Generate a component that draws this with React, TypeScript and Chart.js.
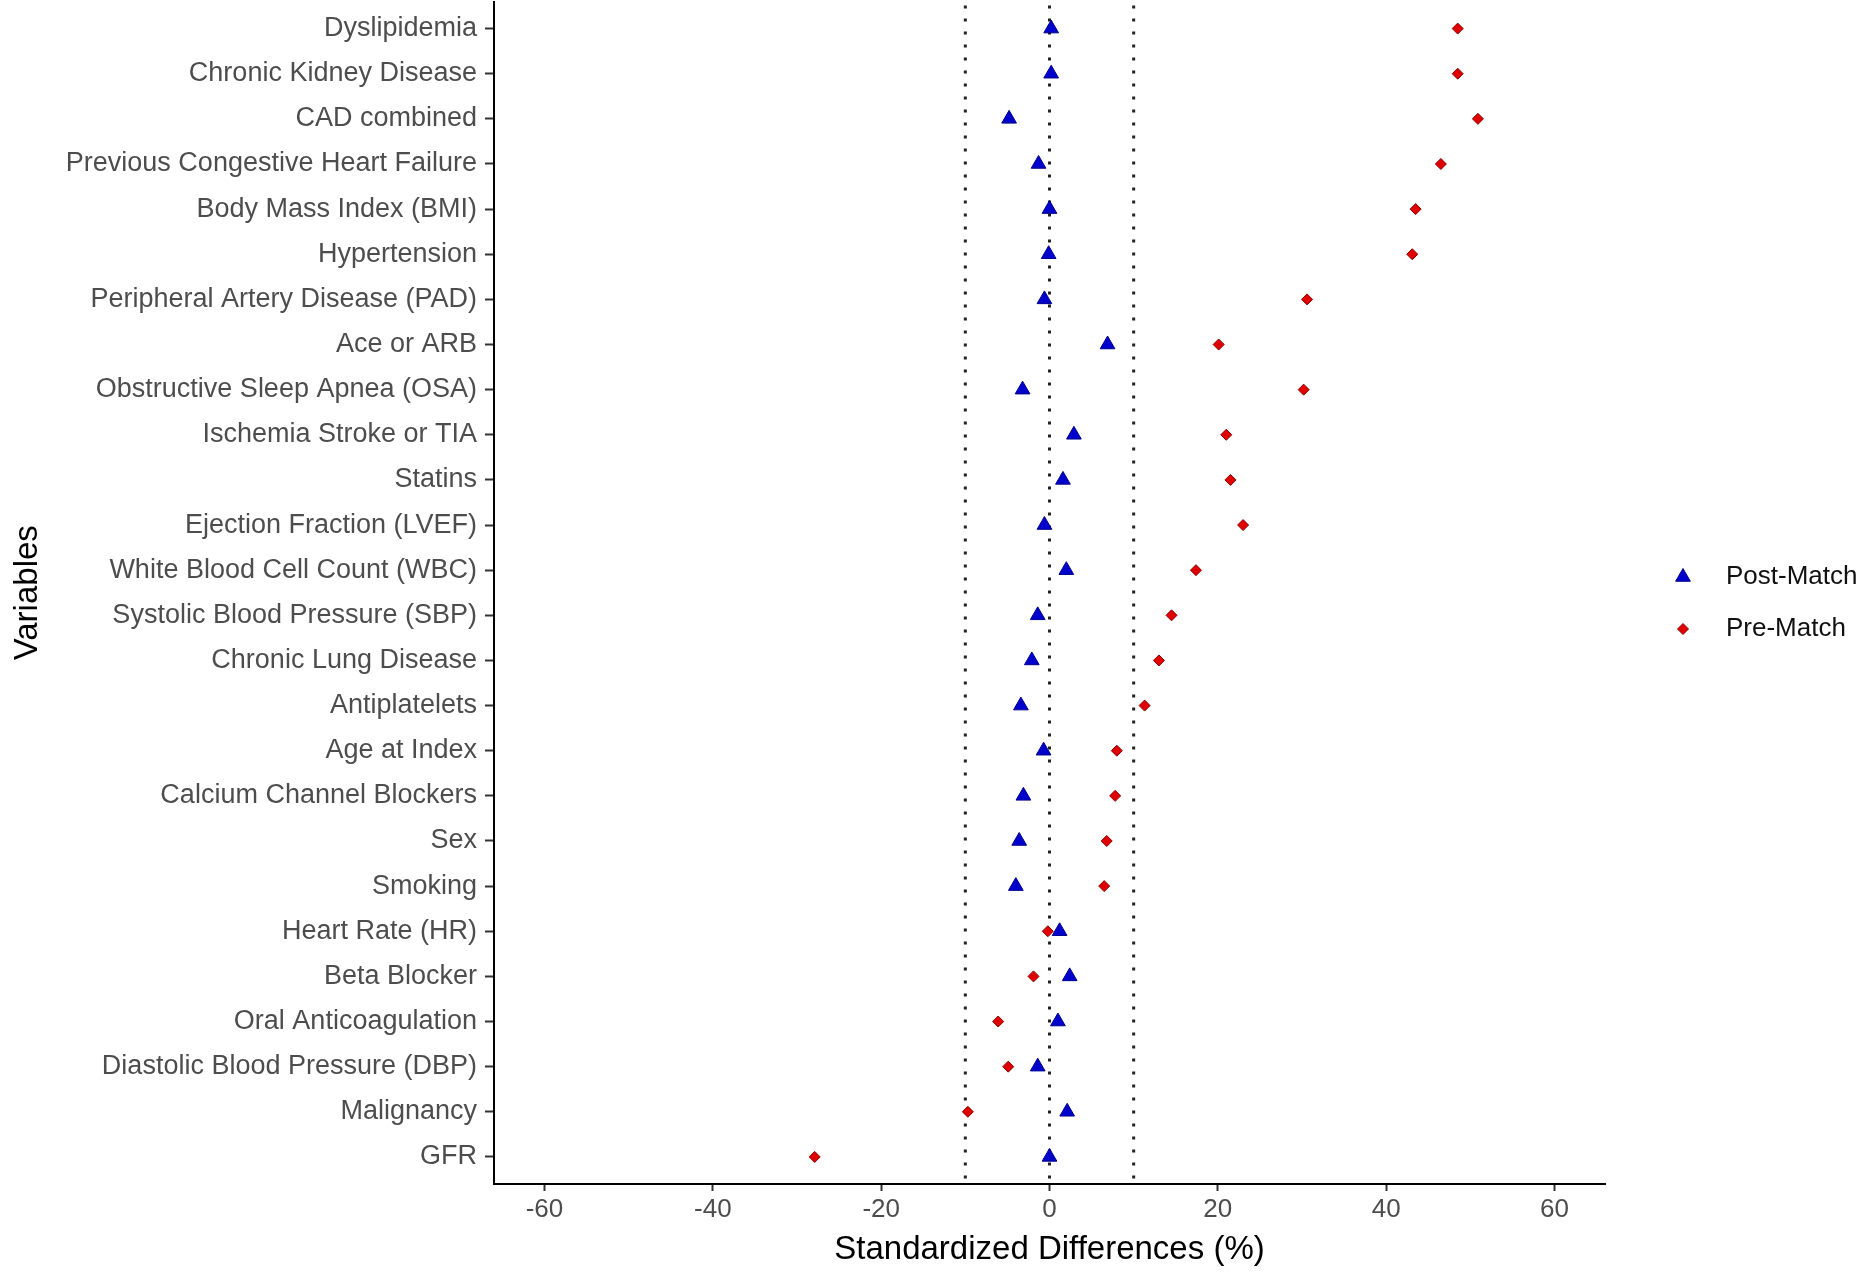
import React, { useEffect, useRef } from "react";
import { Chart, registerables } from "chart.js";

Chart.register(...registerables);

// ---- Data (top to bottom as shown) ----
const categories = [
  "Dyslipidemia",
  "Chronic Kidney Disease",
  "CAD combined",
  "Previous Congestive Heart Failure",
  "Body Mass Index (BMI)",
  "Hypertension",
  "Peripheral Artery Disease (PAD)",
  "Ace or ARB",
  "Obstructive Sleep Apnea (OSA)",
  "Ischemia Stroke or TIA",
  "Statins",
  "Ejection Fraction (LVEF)",
  "White Blood Cell Count (WBC)",
  "Systolic Blood Pressure (SBP)",
  "Chronic Lung Disease",
  "Antiplatelets",
  "Age at Index",
  "Calcium Channel Blockers",
  "Sex",
  "Smoking",
  "Heart Rate (HR)",
  "Beta Blocker",
  "Oral Anticoagulation",
  "Diastolic Blood Pressure (DBP)",
  "Malignancy",
  "GFR",
];

const postMatch = [
  0.2, 0.2, -4.8, -1.3, 0.0, -0.1, -0.6, 6.9, -3.2, 2.9, 1.6, -0.6, 2.0,
  -1.4, -2.1, -3.4, -0.7, -3.1, -3.6, -4.0, 1.2, 2.4, 1.0, -1.4, 2.1, 0.0,
];

const preMatch = [
  48.5, 48.5, 50.9, 46.5, 43.5, 43.1, 30.6, 20.1, 30.2, 21.0, 21.5, 23.0,
  17.4, 14.5, 13.0, 11.3, 8.0, 7.8, 6.8, 6.5, -0.2, -1.9, -6.1, -4.9, -9.7,
  -27.9,
];

const seriesNames = ["Post-Match", "Pre-Match"];
const xTickValues = [-60, -40, -20, 0, 20, 40, 60];
const refLines = [-10, 0, 10];

const FONT = "'Liberation Sans', Arial, Helvetica, sans-serif";

function drawMarker(ctx: CanvasRenderingContext2D, style: string, x: number, y: number, r: number) {
  ctx.beginPath();
  if (style === "triangle") {
    let rad = 0;
    ctx.moveTo(x + Math.sin(rad) * r, y - Math.cos(rad) * r);
    rad += (2 * Math.PI) / 3;
    ctx.lineTo(x + Math.sin(rad) * r, y - Math.cos(rad) * r);
    rad += (2 * Math.PI) / 3;
    ctx.lineTo(x + Math.sin(rad) * r, y - Math.cos(rad) * r);
    ctx.closePath();
  } else {
    ctx.moveTo(x - r, y);
    ctx.lineTo(x, y - r);
    ctx.lineTo(x + r, y);
    ctx.lineTo(x, y + r);
    ctx.closePath();
  }
  ctx.fill();
  ctx.stroke();
}

const refLinePlugin = {
  id: "refLines",
  beforeDatasetsDraw(chart: any) {
    const { ctx, chartArea, scales } = chart;
    ctx.save();
    ctx.strokeStyle = "#222222";
    ctx.lineWidth = 3;
    ctx.setLineDash([3, 10]);
    for (const v of refLines) {
      const x = scales.x.getPixelForValue(v);
      ctx.beginPath();
      ctx.moveTo(x, chartArea.top + 4);
      ctx.lineTo(x, chartArea.bottom);
      ctx.stroke();
    }
    ctx.restore();
  },
};

const sideLegendPlugin = {
  id: "sideLegend",
  afterDraw(chart: any, _args: any, opts: any) {
    const { ctx } = chart;
    ctx.save();
    chart.data.datasets.forEach((ds: any, i: number) => {
      const y = opts.y + i * opts.spacing;
      ctx.fillStyle = ds.backgroundColor;
      ctx.strokeStyle = ds.borderColor;
      ctx.lineWidth = ds.borderWidth;
      drawMarker(ctx, ds.pointStyle, opts.markerX, y, ds.pointRadius);
      ctx.fillStyle = "#111111";
      ctx.font = `${opts.fontSize}px ${FONT}`;
      ctx.textAlign = "left";
      ctx.textBaseline = "middle";
      ctx.fillText(ds.label, opts.textX, y);
    });
    ctx.restore();
  },
};

export default function App() {
  const canvasRef = useRef<HTMLCanvasElement | null>(null);

  useEffect(() => {
    document.body.style.margin = "0";
    document.body.style.overflow = "hidden";
    const canvas = canvasRef.current;
    if (!canvas) return;

    const xTickFont = { family: FONT, size: 26 };
    const yTickFont = { family: FONT, size: 27 };
    const titleFont = { family: FONT, size: 33 };

    const chart = new Chart(canvas, {
      type: "scatter",
      data: {
        datasets: [
          {
            label: seriesNames[0],
            data: postMatch.map((v, i) => ({ x: v, y: i })),
            pointStyle: "triangle",
            pointRadius: 8.5,
            backgroundColor: "#0000CD",
            borderColor: "#00008B",
            borderWidth: 1,
          },
          {
            label: seriesNames[1],
            data: preMatch.map((v, i) => ({ x: v, y: i })),
            pointStyle: "rectRot",
            pointRadius: 5.5,
            backgroundColor: "#E00000",
            borderColor: "#8B0000",
            borderWidth: 1,
          },
        ],
      },
      options: {
        animation: false,
        responsive: false,
        devicePixelRatio: 1,
        events: [],
        layout: { autoPadding: false, padding: { top: 1.5, right: 266, bottom: 0, left: 0 } },
        plugins: {
          legend: { display: false },
          tooltip: { enabled: false },
          sideLegend: { markerX: 1683, textX: 1726, y: 577, spacing: 52, fontSize: 26 },
        } as any,
        scales: {
          x: {
            type: "linear",
            min: -66,
            max: 66,
            afterBuildTicks: (s: any) => {
              s.ticks = xTickValues.map((v) => ({ value: v }));
            },
            afterFit: (s: any) => {
              s.height = 98;
              s.paddingLeft = 0;
              s.paddingRight = 0;
            },
            grid: {
              display: true,
              drawOnChartArea: false,
              drawTicks: true,
              tickLength: 7,
              tickWidth: 2,
              tickColor: "#333333",
              color: "#333333",
            },
            border: { display: true, color: "#000000", width: 2 },
            ticks: {
              font: xTickFont,
              color: "#4D4D4D",
              padding: 3,
              autoSkip: false,
              maxRotation: 0,
              callback: (v: any) => String(v),
            },
            title: {
              display: true,
              text: "Standardized Differences (%)",
              font: titleFont,
              color: "#000000",
              padding: { top: 0, bottom: 12 },
            },
          },
          y: {
            type: "linear",
            reverse: true,
            min: -0.6,
            max: 25.6,
            afterBuildTicks: (s: any) => {
              s.ticks = categories.map((_, i) => ({ value: i }));
            },
            afterFit: (s: any) => {
              s.width = 494;
              s.paddingTop = 0;
              s.paddingBottom = 0;
            },
            grid: {
              display: true,
              drawOnChartArea: false,
              drawTicks: true,
              tickLength: 9,
              tickWidth: 2,
              tickColor: "#333333",
              color: "#333333",
            },
            border: { display: true, color: "#000000", width: 2 },
            ticks: {
              font: yTickFont,
              color: "#4D4D4D",
              padding: 8,
              autoSkip: false,
              callback: (v: any) => categories[Math.round(Number(v))] ?? "",
            },
            title: {
              display: true,
              text: "Variables",
              font: titleFont,
              color: "#000000",
              padding: { top: 8, bottom: 0 },
            },
          },
        },
      } as any,
      plugins: [refLinePlugin, sideLegendPlugin],
    });

    return () => {
      chart.destroy();
    };
  }, []);

  return (
    <div style={{ width: 1871, height: 1282, background: "#ffffff" }}>
      <canvas ref={canvasRef} width={1871} height={1282} style={{ display: "block" }} />
    </div>
  );
}
